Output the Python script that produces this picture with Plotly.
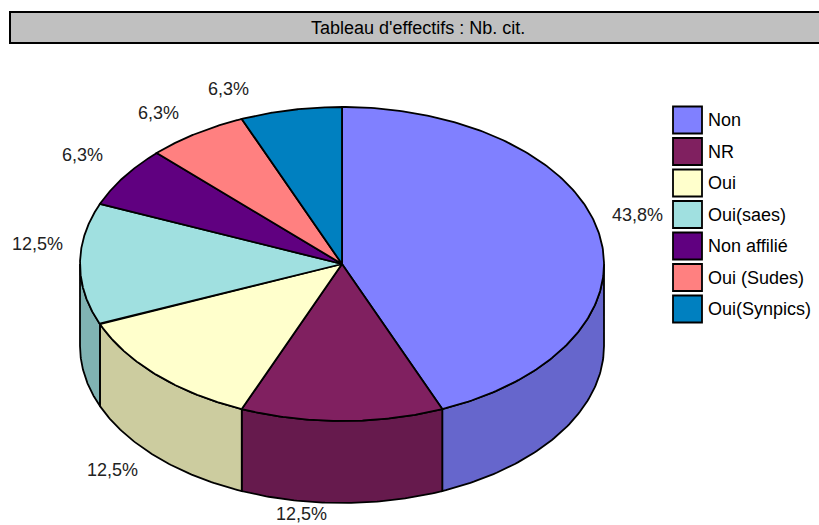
import numpy as np
import plotly.graph_objects as go
from decimal import Decimal, ROUND_HALF_UP

# ---- data ----
categories = ["Non", "NR", "Oui", "Oui(saes)", "Non affilié", "Oui (Sudes)", "Oui(Synpics)"]
counts = [7, 2, 2, 2, 1, 1, 1]
title_text = "Tableau d'effectifs : Nb. cit."

# ---- styles ----
top_colors = ["#8080FF", "#802060", "#FFFFCC", "#A0E0E0", "#600080", "#FF8080", "#0080C0"]
side_colors = ["#6666CC", "#661A4D", "#CCCC9F", "#80B3B3", "#4D0066", "#CC6666", "#006699"]
FONT = "Arial, Liberation Sans, sans-serif"

W, H = 819, 525
CX, CY, RX, RY, DEPTH = 342, 264, 262, 157, 82

# label text anchor positions (layout)
LABEL_POS = [(637, 215), (301, 514), (112, 470), (37, 244), (82, 155), (158, 113), (228, 89)]

total = sum(counts)
pct = [str(Decimal(100 * c / total).quantize(Decimal("0.1"), rounding=ROUND_HALF_UP)).replace(".", ",") + "%"
       for c in counts]

def pt(theta, dy=0.0):
    t = np.radians(theta)
    return CX + RX * np.sin(t), CY - RY * np.cos(t) + dy

angles = np.concatenate([[0], np.cumsum(counts) / total * 360.0])

fig = go.Figure()

# side walls (front half only: 90..270 deg)
for i in range(len(counts)):
    a, b = max(angles[i], 90), min(angles[i + 1], 270)
    if b <= a:
        continue
    th = np.linspace(a, b, 80)
    xs_t, ys_t = pt(th)
    xs_b, ys_b = pt(th[::-1], DEPTH)
    xs = np.concatenate([xs_t, xs_b, xs_t[:1]])
    ys = np.concatenate([ys_t, ys_b, ys_t[:1]])
    fig.add_trace(go.Scatter(x=xs, y=ys, mode="lines", fill="toself", fillcolor=side_colors[i],
                             line=dict(color="black", width=1.8), hoverinfo="skip", showlegend=False))

# top faces
for i in range(len(counts)):
    th = np.linspace(angles[i], angles[i + 1], 200)
    xs, ys = pt(th)
    xs = np.concatenate([[CX], xs, [CX]])
    ys = np.concatenate([[CY], ys, [CY]])
    fig.add_trace(go.Scatter(x=xs, y=ys, mode="lines", fill="toself", fillcolor=top_colors[i],
                             line=dict(color="black", width=1.8), name=categories[i],
                             hoverinfo="name", showlegend=False))

shapes = []
annotations = []

# title bar
shapes.append(dict(type="rect", xref="x", yref="y", x0=10, x1=830, y0=12, y1=43,
                   fillcolor="#C0C0C0", line=dict(color="black", width=2), layer="below"))
annotations.append(dict(x=418, y=28, xref="x", yref="y", text=title_text, showarrow=False,
                        font=dict(family=FONT, size=18, color="black"), xanchor="center", yanchor="middle"))

# percentage labels
for i, (lx, ly) in enumerate(LABEL_POS):
    annotations.append(dict(x=lx, y=ly, xref="x", yref="y", text=pct[i], showarrow=False,
                            font=dict(family=FONT, size=18, color="#222"), xanchor="center", yanchor="middle"))

# legend
for i, cat in enumerate(categories):
    yc = 120 + i * 31.5
    shapes.append(dict(type="rect", xref="x", yref="y", x0=673, x1=702, y0=yc - 13.5, y1=yc + 13.5,
                       fillcolor=top_colors[i], line=dict(color="black", width=1.8)))
    annotations.append(dict(x=706, y=yc, xref="x", yref="y", text=cat, showarrow=False,
                            font=dict(family=FONT, size=18, color="black"), xanchor="left", yanchor="middle"))

fig.update_layout(
    width=W, height=H, margin=dict(l=0, r=0, t=0, b=0),
    paper_bgcolor="white", plot_bgcolor="white",
    xaxis=dict(range=[0, W], visible=False, fixedrange=True),
    yaxis=dict(range=[H, 0], visible=False, fixedrange=True),
    shapes=shapes, annotations=annotations, showlegend=False,
)

fig.write_html("out.html", config={"displayModeBar": False},
               post_script="document.body.style.margin='0';document.body.style.overflow='hidden';")
